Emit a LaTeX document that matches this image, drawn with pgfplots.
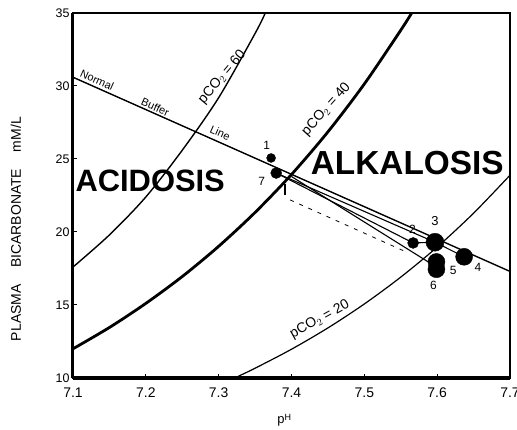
\documentclass[border=0pt]{standalone}
\usepackage{fontspec}
\setmainfont{Liberation Sans}
\usepackage{pgfplots}
\pgfplotsset{compat=1.18}
\begin{document}
\begin{tikzpicture}
\useasboundingbox (-73bp,-52bp) rectangle (444bp,378bp);
\begin{axis}[
 at={(0,0)}, anchor=south west,
 width=437bp, height=365bp, scale only axis,
 xmin=7.1, xmax=7.7, ymin=10, ymax=35,
 xtick={7.1,7.2,7.3,7.4,7.5,7.6,7.7},
 xticklabels={7.1,7.2,7.3,7.4,7.5,7.6,7.7},
 ytick={10,15,20,25,30,35},
 yticklabels={10,15,20,25,30,35},
 xtick pos=bottom, ytick pos=left,
 tick align=inside, major tick length=4bp,
 tick style={black, line width=1bp},
 yticklabel style={font=\fontsize{12.5}{14}\selectfont},
 xticklabel style={font=\fontsize{14}{16}\selectfont, yshift=-6bp},
 axis line style={line width=1.5bp},
 clip=false,
]
% isobars
\addplot[black, line width=1.4bp, smooth] coordinates {(7.10,17.6) (7.15,19.8) (7.20,22.4) (7.25,25.6) (7.30,29.2) (7.35,33.6) (7.364,35)};
\addplot[black, line width=2.8bp, smooth] coordinates {(7.10,12.00) (7.15,13.46) (7.20,15.11) (7.25,16.95) (7.30,19.02) (7.35,21.34) (7.40,23.94) (7.45,26.86) (7.50,30.14) (7.55,33.82) (7.565,35.0)};
\addplot[black, line width=1.2bp, smooth] coordinates {(7.322,10.0) (7.35,10.67) (7.40,11.97) (7.45,13.43) (7.50,15.07) (7.55,16.91) (7.60,18.97) (7.65,21.29) (7.70,23.89)};
% normal buffer line
\addplot[black, line width=1.4bp] coordinates {(7.1,30.6) (7.7,17.3)};
% connecting lines
\addplot[black, line width=1.1bp] coordinates {(7.379,24.04) (7.567,19.25)};
\addplot[black, line width=1.1bp] coordinates {(7.379,24.04) (7.597,19.3)};
\addplot[black, line width=1.1bp] coordinates {(7.40,23.8) (7.599,17.6)};
\addplot[black, line width=1.1bp] coordinates {(7.567,19.25) (7.597,19.3) (7.637,18.3)};
\addplot[black, line width=0.8bp, dash pattern=on 4bp off 6bp] coordinates {(7.398,22.2) (7.559,18.6)};
\addplot[black, line width=1.2bp] coordinates {(7.391,23.3) (7.391,22.5)};
% points
\addplot[only marks, mark=*, mark size=4.5bp, black] coordinates {(7.372,25.07)};
\addplot[only marks, mark=*, mark size=5.5bp, black] coordinates {(7.379,24.04) (7.567,19.25)};
\addplot[only marks, mark=*, mark size=9bp, black] coordinates {(7.597,19.3)};
\addplot[only marks, mark=*, mark size=8.5bp, black] coordinates {(7.637,18.3)};
\addplot[only marks, mark=*, mark size=8.5bp, black] coordinates {(7.599,17.95) (7.599,17.45)};
% point labels
\node[font=\fontsize{12}{13}\selectfont] at (axis cs:7.366,25.9) {1};
\node[font=\fontsize{12}{13}\selectfont] at (axis cs:7.359,23.5) {7};
\node[font=\fontsize{12}{13}\selectfont] at (axis cs:7.566,20.15) {2};
\node[font=\fontsize{13}{14}\selectfont] at (axis cs:7.597,20.75) {3};
\node[font=\fontsize{12}{13}\selectfont] at (axis cs:7.656,17.6) {4};
\node[font=\fontsize{12}{13}\selectfont] at (axis cs:7.622,17.35) {5};
\node[font=\fontsize{12}{13}\selectfont] at (axis cs:7.595,16.35) {6};
% region labels
\node[font=\bfseries\fontsize{31}{33}\selectfont] at (axis cs:7.206,23.5) {ACIDOSIS};
\node[font=\bfseries\fontsize{33.5}{35}\selectfont] at (axis cs:7.559,24.7) {ALKALOSIS};
% line labels
\node[rotate=-24, font=\fontsize{11}{12}\selectfont] at (axis cs:7.133,30.4) {Normal};
\node[rotate=-24, font=\fontsize{11}{12}\selectfont] at (axis cs:7.213,28.55) {Buffer};
\node[rotate=-24, font=\fontsize{11}{12}\selectfont] at (axis cs:7.302,26.8) {Line};
\node[rotate=50, font=\fontsize{14}{15}\selectfont] at (axis cs:7.305,30.6) {pCO$_2$ = 60};
\node[rotate=48, font=\fontsize{14}{15}\selectfont] at (axis cs:7.448,28.4) {pCO$_2$ = 40};
\node[rotate=29, font=\fontsize{14}{15}\selectfont] at (axis cs:7.439,14.0) {pCO$_2$ = 20};
% axis labels
\node[rotate=90, font=\fontsize{14}{15}\selectfont] at (axis cs:7.0215,20.2) {PLASMA\hspace{1.2em}BICARBONATE\hspace{1.2em}mM/L};
\node[font=\fontsize{13}{14}\selectfont] at (axis cs:7.39,7.1) {p\raisebox{2.5bp}{\fontsize{9}{10}\selectfont H}};
% heavier left and bottom frame
\draw[line width=3bp] (rel axis cs:0,0) -- (rel axis cs:0,1);
\draw[line width=3bp] (rel axis cs:0,0) -- (rel axis cs:1,0);
\end{axis}
\end{tikzpicture}
\end{document}
